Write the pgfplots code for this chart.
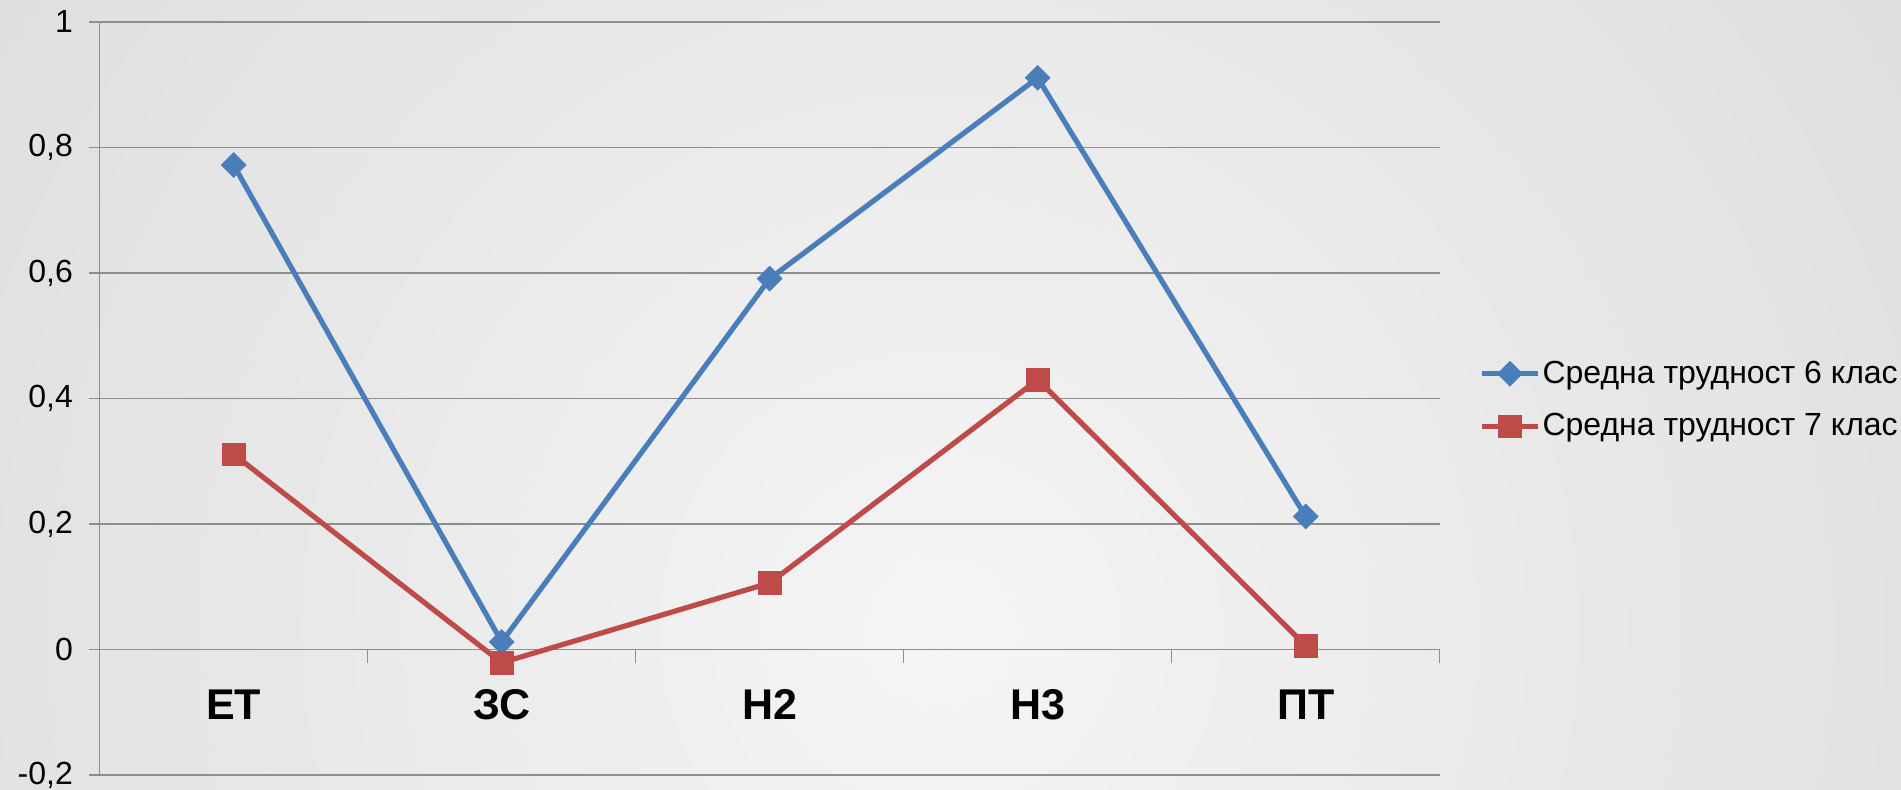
\documentclass[border=0pt]{standalone}
\usepackage{pgfplots}
\pgfplotsset{compat=1.18}
\usepackage{fontspec}
\setmainfont{Liberation Sans}

\definecolor{serA}{HTML}{4A7EBB}
\definecolor{serB}{HTML}{BE4B48}
\definecolor{gridc}{HTML}{8E8E8E}
\definecolor{bgin}{HTML}{F5F5F5}
\definecolor{bgout}{HTML}{C6C6C6}
\pgfdeclareradialshading{bgshade}{\pgfpoint{0bp}{0bp}}{color(0bp)=(bgin); color(50bp)=(bgout)}

\begin{document}
\begin{tikzpicture}
\path[use as bounding box] (0,0) rectangle (950.5pt,395pt);
\begin{scope}
  \clip (0,0) rectangle (950.5pt,395pt);
  \shade[shading=bgshade] (470pt,80pt) circle (600pt);
\end{scope}
\begin{axis}[
  at={(49.85pt,7.5pt)}, anchor=south west,
  width=670pt, height=376.5pt, scale only axis,
  xmin=-0.5, xmax=4.5, ymin=-0.2, ymax=1,
  axis y line*=left, axis x line*=middle,
  axis line style={gridc, line width=0.75pt},
  xtick={0,1,2,3,4},
  xticklabels={ЕТ,ЗС,Н2,Н3,ПТ},
  minor xtick={-0.5,0.5,1.5,2.5,3.5,4.5},
  major x tick style={draw=none},
  minor x tick style={gridc, line width=0.75pt},
  ytick={-0.2,0,0.2,0.4,0.6,0.8,1},
  major y tick style={gridc, line width=0.75pt},
  tick align=outside,
  major tick length=5.25pt, minor tick length=7pt,
  ymajorgrids, grid style={gridc, line width=0.75pt},
  /pgf/number format/.cd, use comma, fixed, assume math mode=true, /pgfplots/.cd,
  yticklabel style={font=\fontsize{16}{18}\selectfont, anchor=east, inner sep=0pt, xshift=-8pt},
  xticklabel style={font=\fontsize{21.5}{24}\selectfont\bfseries, anchor=north, inner sep=0pt, text height=15.4pt, yshift=-14pt},
  clip=false,
  legend cell align=left,
  legend style={at={(1.0293,0.498)}, anchor=west, draw=none, fill=none,
    font=\fontsize{16}{18}\selectfont, inner sep=0pt, row sep=13.5pt,
    nodes={inner sep=0pt},
    /tikz/every odd column/.append style={column sep=1pt}},
  legend image code/.code={\draw[mark repeat=2,mark phase=2,#1] plot coordinates {(0pt,0pt) (14pt,0pt) (28pt,0pt)};},
]
\addplot[serA, line width=2.6pt, mark=square*, mark size=4.4pt,
  mark options={solid, rotate=45, line width=0.3pt, fill=serA}]
  coordinates {(0,0.772) (1,0.012) (2,0.591) (3,0.911) (4,0.212)};
\addlegendentry{Средна трудност 6 клас}
\addplot[serB, line width=2.6pt, mark=square*, mark size=5.6pt,
  mark options={solid, line width=0.3pt, fill=serB}]
  coordinates {(0,0.311) (1,-0.021) (2,0.106) (3,0.430) (4,0.006)};
\addlegendentry{Средна трудност 7 клас}
\end{axis}
\end{tikzpicture}
\end{document}
